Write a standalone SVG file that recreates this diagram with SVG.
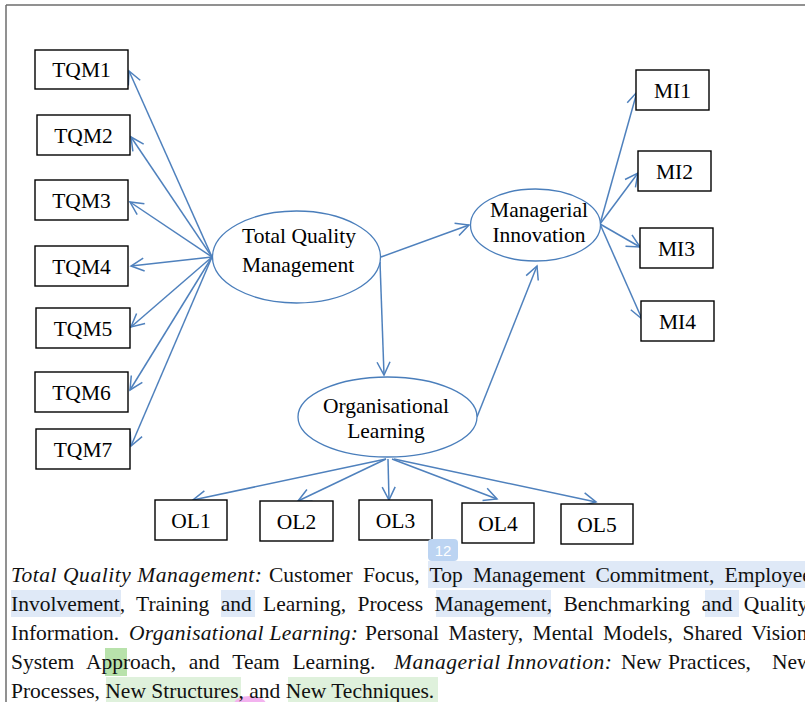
<svg xmlns="http://www.w3.org/2000/svg" width="805" height="702" viewBox="0 0 805 702">
<style>
.box{fill:#fff;stroke:#000;stroke-width:1.4}
.ell{fill:#fff;stroke:#4a7ebb;stroke-width:1.3}
.lbl{font-size:21.5px;fill:#000;text-anchor:middle}
.con line{stroke:#4f81bd;stroke-width:1.5;fill:none;marker-end:url(#arr)}
.cap{font-size:21.5px;fill:#111}
.it{font-style:italic}
.hb{fill:#dfe9f7}
.hg{fill:#dff1dc}
</style>
<defs>
<marker id="arr" viewBox="-14 -8 16 16" refX="0" refY="0" markerWidth="16" markerHeight="16" markerUnits="userSpaceOnUse" orient="auto">
<path d="M-13,-6.5 L0,0 L-13,6.5" fill="none" stroke="#4f81bd" stroke-width="1.5"/>
</marker>
</defs>
<rect width="805" height="702" fill="#fff"/>
<g id="page-border" stroke="#6d6d6d" stroke-width="1.5" fill="none">
<line x1="6" y1="5" x2="805" y2="5"/>
<line x1="6" y1="5" x2="6" y2="702"/>
</g>
<g class="con" id="connectors">
<line x1="212" y1="257" x2="129" y2="71"/>
<line x1="212" y1="257" x2="131" y2="137"/>
<line x1="212" y1="257" x2="130" y2="202"/>
<line x1="212" y1="257" x2="131" y2="266"/>
<line x1="212" y1="257" x2="131" y2="327"/>
<line x1="212" y1="257" x2="130" y2="390"/>
<line x1="212" y1="257" x2="131" y2="446"/>
<line x1="381" y1="257" x2="469" y2="225"/>
<line x1="380" y1="262" x2="384" y2="375"/>
<line x1="477" y1="417" x2="537" y2="266"/>
<line x1="600" y1="224" x2="637" y2="92"/>
<line x1="600" y1="224" x2="638" y2="173"/>
<line x1="600" y1="224" x2="640" y2="247"/>
<line x1="600" y1="224" x2="642" y2="319"/>
<line x1="386" y1="459" x2="193" y2="500"/>
<line x1="386" y1="459" x2="298" y2="501"/>
<line x1="388" y1="459" x2="389" y2="500"/>
<line x1="392" y1="459" x2="497" y2="499"/>
<line x1="394" y1="459" x2="596" y2="502"/>
</g>
<g font-family="Liberation Serif, Times New Roman, DejaVu Serif, serif">
<g id="tqm"><ellipse class="ell" cx="296.5" cy="257" rx="84" ry="46"/><text class="lbl" x="299" y="243" textLength="114">Total Quality</text><text class="lbl" x="298" y="272">Management</text></g>
<g id="mi"><ellipse class="ell" cx="535.5" cy="225" rx="65" ry="36"/><text class="lbl" x="539" y="217">Managerial</text><text class="lbl" x="539" y="242">Innovation</text></g>
<g id="ol"><ellipse class="ell" cx="387.5" cy="417" rx="89.5" ry="40"/><text class="lbl" x="386" y="413">Organisational</text><text class="lbl" x="386" y="438">Learning</text></g>
<g id="tqm1"><rect class="box" x="35" y="50" width="93" height="39"/><text class="lbl" x="81.5" y="77">TQM1</text></g>
<g id="tqm2"><rect class="box" x="37" y="115" width="93" height="40"/><text class="lbl" x="83.5" y="143">TQM2</text></g>
<g id="tqm3"><rect class="box" x="35" y="180" width="93" height="40"/><text class="lbl" x="81.5" y="208">TQM3</text></g>
<g id="tqm4"><rect class="box" x="35" y="246" width="93" height="40"/><text class="lbl" x="81.5" y="274">TQM4</text></g>
<g id="tqm5"><rect class="box" x="36" y="308" width="94" height="40"/><text class="lbl" x="83" y="336">TQM5</text></g>
<g id="tqm6"><rect class="box" x="35" y="372" width="93" height="40"/><text class="lbl" x="81.5" y="400">TQM6</text></g>
<g id="tqm7"><rect class="box" x="36" y="429" width="94" height="40"/><text class="lbl" x="83" y="457">TQM7</text></g>
<g id="mi1"><rect class="box" x="636" y="70" width="73" height="40"/><text class="lbl" x="672.5" y="98">MI1</text></g>
<g id="mi2"><rect class="box" x="638" y="151" width="73" height="40"/><text class="lbl" x="674.5" y="179">MI2</text></g>
<g id="mi3"><rect class="box" x="640" y="228" width="73" height="40"/><text class="lbl" x="676.5" y="256">MI3</text></g>
<g id="mi4"><rect class="box" x="641" y="301" width="73" height="40"/><text class="lbl" x="677.5" y="329">MI4</text></g>
<g id="ol1"><rect class="box" x="155" y="500" width="72" height="40"/><text class="lbl" x="191" y="528">OL1</text></g>
<g id="ol2"><rect class="box" x="260" y="501" width="73" height="40"/><text class="lbl" x="296.5" y="529">OL2</text></g>
<g id="ol3"><rect class="box" x="359" y="500" width="73" height="40"/><text class="lbl" x="395.5" y="528">OL3</text></g>
<g id="ol4"><rect class="box" x="462" y="503" width="72" height="40"/><text class="lbl" x="498" y="531">OL4</text></g>
<g id="ol5"><rect class="box" x="561" y="504" width="72" height="40"/><text class="lbl" x="597" y="532">OL5</text></g>
</g>
<g id="badge"><rect x="428" y="539" width="30" height="22" rx="4" fill="#bcd4f2"/><text x="443" y="556" font-family="Liberation Sans, Arial, sans-serif" font-size="15" fill="#fff" text-anchor="middle">12</text></g>
<g id="highlights">
<rect class="hb" x="428" y="561" width="377" height="27"/>
<rect class="hb" x="11" y="590" width="110" height="27"/>
<rect class="hb" x="221" y="590" width="34" height="27"/>
<rect class="hb" x="436" y="590" width="115" height="27"/>
<rect class="hb" x="705" y="590" width="34" height="27"/>
<rect x="105" y="648" width="22" height="28" fill="#b8e2ab"/>
<rect class="hg" x="106" y="677" width="135" height="25"/>
<rect class="hg" x="288" y="677" width="150" height="25"/>
<ellipse cx="250" cy="704" rx="16" ry="8" fill="#f3b3ef"/>
</g>
<g id="caption" class="cap" font-family="Liberation Serif, Times New Roman, DejaVu Serif, serif">
<text y="582"><tspan class="it" x="11" textLength="251">Total Quality Management:</tspan><tspan x="269" word-spacing="4.9">Customer Focus, Top Management Commitment, Employee</tspan></text>
<text y="611" x="11" word-spacing="6">Involvement, Training and Learning, Process Management, Benchmarking and Quality</text>
<text y="640"><tspan x="11">Information.</tspan><tspan class="it" x="129" textLength="229">Organisational Learning:</tspan><tspan x="365" word-spacing="4.2">Personal Mastery, Mental Models, Shared Vision,</tspan></text>
<text y="669"><tspan x="11" word-spacing="7.4">System Approach, and Team Learning.</tspan><tspan class="it" x="394" textLength="218">Managerial Innovation:</tspan><tspan x="621">New</tspan><tspan x="668">Practices,</tspan><tspan x="772">New</tspan></text>
<text y="698" x="11">Processes, New Structures, and New Techniques.</text>
</g>
</svg>
